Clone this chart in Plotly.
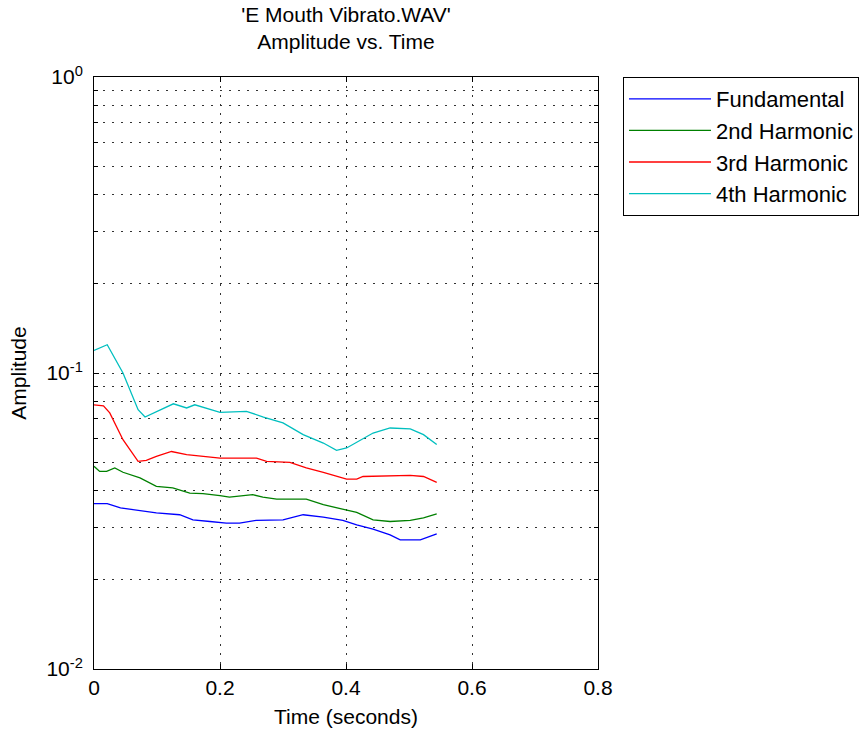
import plotly.graph_objects as go

# Time axis (seconds) and harmonic amplitudes
t_fund = [0.0, 0.021, 0.042, 0.073, 0.099, 0.136, 0.157, 0.184, 0.210, 0.231,
          0.258, 0.300, 0.332, 0.364, 0.395, 0.417, 0.443, 0.470, 0.486, 0.518, 0.544]
a_fund = [0.0362, 0.0362, 0.0350, 0.0343, 0.0337, 0.0332, 0.0319, 0.0315, 0.0311, 0.0311,
          0.0318, 0.0319, 0.0332, 0.0326, 0.0318, 0.0307, 0.0297, 0.0284, 0.0273, 0.0273, 0.0286]

t_h2 = [0.0, 0.009, 0.020, 0.033, 0.046, 0.073, 0.099, 0.125, 0.152, 0.173,
        0.200, 0.215, 0.252, 0.268, 0.290, 0.337, 0.364, 0.395, 0.417, 0.443,
        0.470, 0.502, 0.523, 0.544]
a_h2 = [0.0484, 0.0465, 0.0465, 0.0478, 0.0462, 0.0442, 0.0414, 0.0409, 0.0393, 0.0391,
        0.0385, 0.0381, 0.0388, 0.0381, 0.0375, 0.0375, 0.0359, 0.0347, 0.0338, 0.0319,
        0.0315, 0.0318, 0.0324, 0.0334]

t_h3 = [0.0, 0.015, 0.025, 0.046, 0.070, 0.083, 0.099, 0.123, 0.147, 0.178,
        0.200, 0.258, 0.274, 0.311, 0.337, 0.364, 0.401, 0.417, 0.427, 0.502, 0.523, 0.544]
a_h3 = [0.0781, 0.0775, 0.0733, 0.0595, 0.0503, 0.0507, 0.0523, 0.0543, 0.0530, 0.0523,
        0.0516, 0.0516, 0.0503, 0.0499, 0.0478, 0.0462, 0.0438, 0.0438, 0.0447, 0.0451, 0.0447, 0.0427]

t_h4 = [0.0, 0.021, 0.046, 0.070, 0.081, 0.105, 0.126, 0.147, 0.160, 0.200,
        0.242, 0.269, 0.300, 0.332, 0.364, 0.385, 0.401, 0.443, 0.470, 0.502, 0.523, 0.544]
a_h4 = [0.1192, 0.1246, 0.1000, 0.0752, 0.0710, 0.0752, 0.0787, 0.0762, 0.0781, 0.0736,
        0.0742, 0.0710, 0.0678, 0.0619, 0.0580, 0.0548, 0.0558, 0.0627, 0.0652, 0.0647, 0.0619, 0.0573]

series = [
    ("Fundamental", t_fund, a_fund, "rgb(0,0,255)"),
    ("2nd Harmonic", t_h2, a_h2, "rgb(0,128,0)"),
    ("3rd Harmonic", t_h3, a_h3, "rgb(255,0,0)"),
    ("4th Harmonic", t_h4, a_h4, "rgb(0,191,191)"),
]

x_ticks = [0, 0.2, 0.4, 0.6, 0.8]
x_ticklabels = ["0", "0.2", "0.4", "0.6", "0.8"]
y_ticks = [0.01, 0.1, 1]
y_ticklabels = ["10<sup>-2</sup>", "10<sup>-1</sup>", "10<sup>0</sup>"]
y_minor = [k * 10 ** e for e in (-2, -1) for k in range(2, 10)]

FONT = "Liberation Sans, Arial, sans-serif"
FS = 21
DOTS = "2px,7px"
GRID = "#333333"
W, H = 862, 738

fig = go.Figure()
for i, (name, t, a, color) in enumerate(series):
    fig.add_trace(go.Scatter(
        x=t, y=a, mode="lines", name=name, legendgroup=f"g{i}",
        line=dict(color=color, width=1.3),
    ))

fig.update_layout(
    width=W, height=H,
    margin=dict(l=94, r=264, t=77, b=69),
    paper_bgcolor="white", plot_bgcolor="white",
    font=dict(family=FONT, size=FS, color="black"),
    title=dict(
        text="'E Mouth Vibrato.WAV'<br>Amplitude vs. Time",
        x=0.5, xref="paper", xanchor="center",
        y=1 - 22 / H, yref="container", yanchor="top",
        font=dict(family=FONT, size=FS, color="black"),
    ),
    showlegend=True,
    legend=dict(
        xref="container", yref="container",
        x=623 / W, y=1 - 77 / H, xanchor="left", yanchor="top",
        bordercolor="black", borderwidth=1, bgcolor="white",
        font=dict(family=FONT, size=22, color="black"),
        tracegroupgap=0, itemwidth=82,
    ),
    xaxis=dict(
        range=[0, 0.8], tickvals=x_ticks, ticktext=x_ticklabels,
        showline=True, linecolor="black", linewidth=1, mirror="ticks",
        ticks="inside", ticklen=5, tickcolor="black",
        showgrid=True, gridcolor=GRID, gridwidth=1, griddash=DOTS,
        zeroline=False, automargin=False,
        title=dict(text="Time (seconds)", standoff=11, font=dict(size=FS)),
    ),
    yaxis=dict(
        type="log", range=[-2, 0], tickvals=y_ticks, ticktext=y_ticklabels,
        showline=True, linecolor="black", linewidth=1, mirror="ticks",
        ticks="inside", ticklen=5, tickcolor="black",
        showgrid=True, gridcolor=GRID, gridwidth=1, griddash=DOTS,
        zeroline=False, automargin=False, ticklabelstandoff=6,
        minor=dict(tickvals=y_minor, ticks="inside", ticklen=4, tickcolor="black",
                   showgrid=True, gridcolor=GRID, gridwidth=1, griddash=DOTS),
        title=dict(text="Amplitude", standoff=14, font=dict(size=FS)),
    ),
)

fig.write_html("out.html")
